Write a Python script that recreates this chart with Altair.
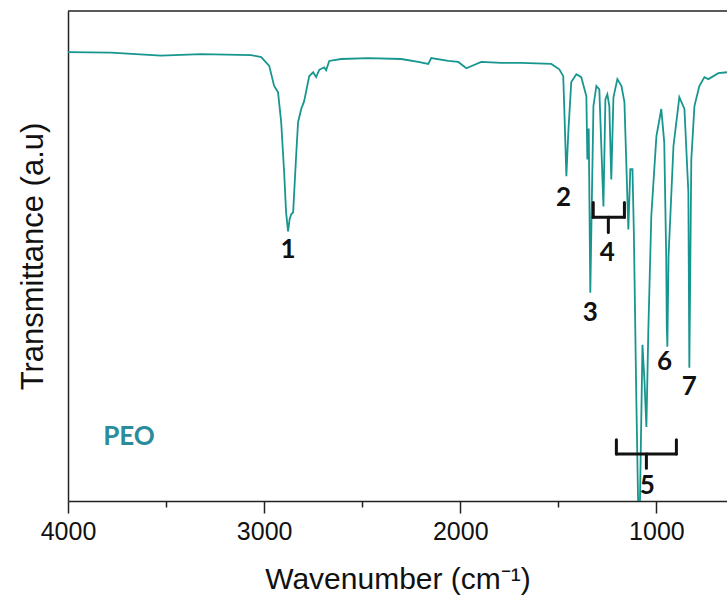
import altair as alt
import pandas as pd

# FTIR spectrum of PEO
wavenumber = [4000, 3781, 3526, 3321, 3066, 3015, 2974, 2949, 2929, 2913, 2898, 2888, 2878, 2870,
              2862, 2852, 2837, 2827, 2811, 2796, 2770, 2750, 2735, 2719, 2694, 2684, 2668, 2607,
              2469, 2301, 2214, 2163, 2148, 2061, 2010, 1969, 1893, 1791, 1689, 1536, 1495, 1475,
              1470, 1459, 1449, 1434, 1408, 1383, 1357, 1352, 1345, 1337, 1321, 1306, 1291, 1270,
              1260, 1250, 1240, 1230, 1219, 1199, 1178, 1163, 1143, 1133, 1122, 1115, 1102, 1092,
              1085, 1071, 1061, 1051, 1041, 1026, 1000, 975, 960, 950, 947, 944, 938, 913, 883,
              857, 837, 832, 822, 806, 781, 755, 735, 684, 640]
transmittance = [91.6, 91.5, 90.9, 91.2, 91.0, 90.6, 88.8, 84.7, 83.4, 77.3, 67.1, 58.9, 55.0, 57.5,
                 58.5, 58.9, 70.3, 77.3, 80.0, 81.6, 86.7, 87.5, 86.5, 88.0, 88.5, 87.9, 89.8, 90.2,
                 90.4, 90.2, 89.6, 89.2, 90.4, 89.8, 89.6, 88.3, 89.6, 89.4, 89.4, 89.2, 88.1, 86.7,
                 80.6, 66.3, 75.3, 85.5, 87.1, 86.5, 82.6, 69.7, 76.0, 42.5, 80.6, 84.7, 84.0, 60.1,
                 82.0, 83.0, 80.6, 65.6, 82.4, 86.1, 84.7, 81.4, 55.4, 67.7, 67.7, 55.0, 20.0, -3.0,
                 -3.0, 31.9, 24.7, 15.1, 35.0, 58.1, 74.4, 80.0, 73.2, 50.0, 35.6, 31.5, 50.0, 72.4,
                 82.4, 80.0, 63.0, 27.2, 69.7, 80.6, 84.7, 86.5, 86.1, 87.3, 87.5]

# Peak labels
label_text = ["1", "2", "3", "4", "5", "6", "7"]
label_wn = [2878, 1474, 1337, 1250, 1046, 959, 832]
label_t = [51.3, 61.8, 38.4, 50.7, 3.1, 28.4, 23.3]

# Sample name
sample_text = ["PEO"]
sample_wn = [3689]
sample_t = [13.1]

# Braces (groups 4 and 5)
brace_left = [1322, 1204]
brace_right = [1163, 898]
brace_mid = [1245, 1051]
brace_top = [60.9, 12.5]
brace_base = [57.9, 9.6]
brace_stem = [54.8, 6.7]

# Axis settings
x_min, x_max = 640, 4000
y_min, y_max = 0, 100
x_ticks = [4000, 3500, 3000, 2500, 2000, 1500, 1000]

spec = pd.DataFrame({"wn": wavenumber, "t": transmittance, "i": range(len(wavenumber))})
labels = pd.DataFrame({"wn": label_wn, "t": label_t, "txt": label_text})
sample = pd.DataFrame({"wn": sample_wn, "t": sample_t, "txt": sample_text})

rows = []
for l, r, m, tp, b, s in zip(brace_left, brace_right, brace_mid, brace_top, brace_base, brace_stem):
    rows.append({"x": l, "x2": r, "y": b, "y2": b})
    rows.append({"x": l, "x2": l, "y": tp, "y2": b})
    rows.append({"x": r, "x2": r, "y": tp, "y2": b})
    rows.append({"x": m, "x2": m, "y": b, "y2": s})
braces = pd.DataFrame(rows)
frame = pd.DataFrame({"x": [x_max], "x2": [x_min], "y": [y_max]})

xscale = alt.Scale(domain=[x_max, x_min], nice=False, zero=False)
yscale = alt.Scale(domain=[y_min, y_max], nice=False, zero=False)

xaxis = alt.Axis(
    values=x_ticks,
    labelExpr="datum.value % 1000 === 0 ? format(datum.value, 'd') : ''",
    tickSize={"condition": {"test": "datum.value % 1000 === 0", "value": 12}, "value": 6},
    labelFlush=False,
    labelFontSize=25,
    labelFont="Liberation Sans",
    labelColor="#111",
    labelPadding=6,
    title="Wavenumber (cm⁻¹)",
    titleFontSize=30,
    titleFont="Liberation Sans",
    titleFontWeight="normal",
    titleColor="#111",
    titlePadding=20,
    domainColor="#222",
    domainWidth=1.5,
    tickColor="#222",
    tickWidth=1.5,
    grid=False,
)
yaxis = alt.Axis(
    ticks=False,
    labels=False,
    grid=False,
    title="Transmittance (a.u)",
    titleFontSize=31,
    titleFont="Liberation Sans",
    titleFontWeight="normal",
    titleColor="#111",
    titlePadding=19,
    domainColor="#222",
    domainWidth=1.5,
)

line = alt.Chart(spec).mark_line(color="#17968f", strokeWidth=1.8, clip=True).encode(
    x=alt.X("wn:Q", scale=xscale, axis=xaxis),
    y=alt.Y("t:Q", scale=yscale, axis=yaxis),
    order="i:Q",
)

top = alt.Chart(frame).mark_rule(color="#222", strokeWidth=1.5).encode(
    x=alt.X("x:Q", scale=xscale), x2="x2:Q", y=alt.Y("y:Q", scale=yscale)
)

brace = alt.Chart(braces).mark_rule(color="#111", strokeWidth=3, strokeCap="round").encode(
    x=alt.X("x:Q", scale=xscale), x2="x2:Q", y=alt.Y("y:Q", scale=yscale), y2="y2:Q"
)

txt = alt.Chart(labels).mark_text(
    font="Lato", fontWeight="bold", fontSize=26, color="#111", align="center", baseline="middle"
).encode(x=alt.X("wn:Q", scale=xscale), y=alt.Y("t:Q", scale=yscale), text="txt:N")

peo = alt.Chart(sample).mark_text(
    font="Lato", fontWeight="bold", fontSize=26, color="#2a8c9c", align="center", baseline="middle"
).encode(x=alt.X("wn:Q", scale=xscale), y=alt.Y("t:Q", scale=yscale), text="txt:N")

chart = alt.layer(line, top, brace, txt, peo).properties(
    width=659,
    height=490,
    autosize="none",
    padding={"left": 68, "top": 11, "right": 0, "bottom": 95},
    background="white",
).configure_view(stroke=None)

chart.save("out.html", embed_options={"renderer": "svg", "actions": False})
